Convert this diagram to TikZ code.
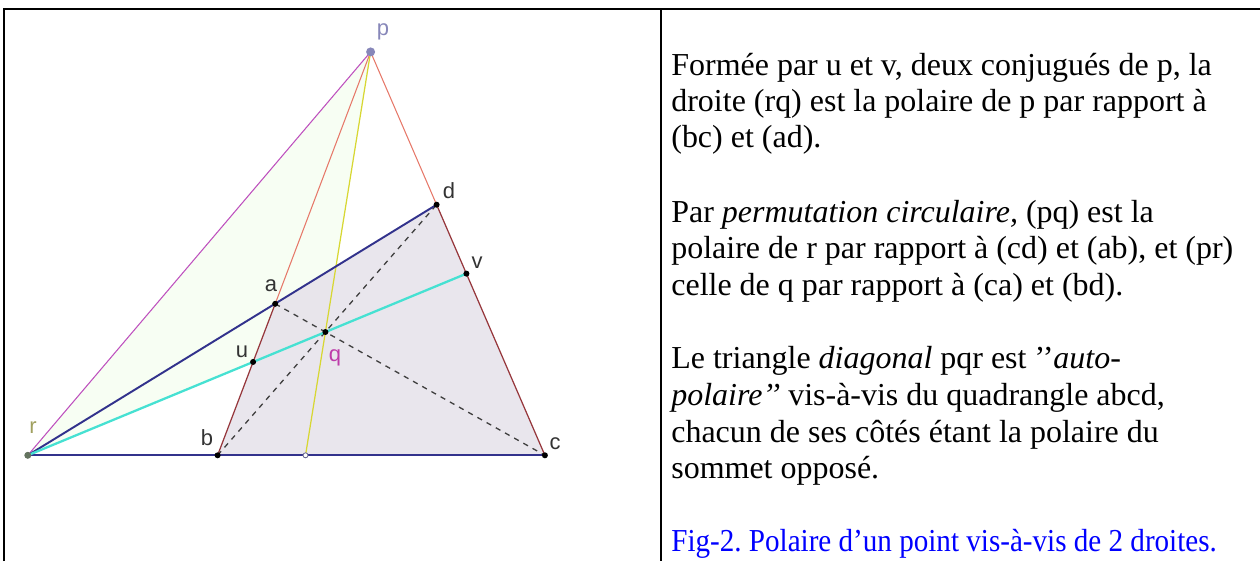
\documentclass[tikz,border=0pt]{standalone}
\usepackage{fontspec}
\setmainfont{Liberation Serif}
\newfontfamily\ggbfont{Liberation Sans}
\usetikzlibrary{calc}
\frenchspacing
\definecolor{rpline}{RGB}{190,80,190}
\definecolor{pbline}{RGB}{230,120,105}
\definecolor{abline}{RGB}{150,55,60}
\definecolor{navyline}{RGB}{50,50,140}
\definecolor{cyanline}{RGB}{70,225,210}
\definecolor{yelline}{RGB}{215,215,50}
\definecolor{quadgray}{RGB}{231,227,235}
\definecolor{trigreen}{RGB}{247,254,243}
\definecolor{pdot}{RGB}{135,135,185}
\definecolor{rdot}{RGB}{100,115,95}
\definecolor{qlab}{RGB}{190,60,170}
\definecolor{rlab}{RGB}{160,160,95}
\tikzset{
  txt/.style={anchor=base west,inner sep=0pt,font=\fontsize{18.2}{21}\selectfont},
  ptlabel/.style={inner sep=0pt,font=\ggbfont\fontsize{12.5}{14}\selectfont,text=black!80},
  frameline/.style={line width=1.15pt}
}

\begin{document}
\begin{tikzpicture}[x=0.02cm,y=-0.02cm]
%\draw[help lines,step=50] (0,0) grid (1260,561);
\useasboundingbox (0,0) rectangle (1260,561);

% frame of the table
\draw[frameline] (4,561)--(4,9)--(1260,9);
\draw[frameline] (661,9)--(661,561);

% points of the quadrangle
\coordinate (p) at (370.6,51.9);
\coordinate (r) at (27.8,455.3);
\coordinate (b) at (217.6,455.3);
\coordinate (c) at (544.9,455.3);
\coordinate (a) at (275.2,303.8);
\coordinate (d) at (436.6,204.7);
\coordinate (q) at (intersection of a--c and b--d);
\coordinate (u) at (intersection of r--q and a--b);
\coordinate (v) at (intersection of r--q and c--d);
\coordinate (f) at (intersection of p--q and b--c);

% fills
\fill[trigreen] (p)--(q)--(r)--cycle;
\fill[quadgray,fill opacity=0.9] (a)--(b)--(c)--(d)--cycle;

% lines
\draw[color=rpline,line width=0.6pt] (r)--(p);
\draw[color=pbline,line width=0.6pt] (p)--(a);
\draw[color=pbline,line width=0.6pt] (p)--(d);
\draw[color=abline,line width=0.7pt] (a)--(b);
\draw[color=abline,line width=0.7pt] (d)--(c);
\draw[color=black!75,dashed,line width=0.75pt] (a)--(c);
\draw[color=black!75,dashed,line width=0.75pt] (b)--(d);
\draw[color=yelline,line width=0.7pt] (p)--(f);
\draw[color=navyline,line width=1pt] (r)--(c);
\draw[color=navyline,line width=1.1pt] (r)--(d);
\draw[color=cyanline,line width=1.3pt] (r)--(v);

% dots
\foreach \pt in {a,b,c,d,u,v,q}
  \fill[black] (\pt) circle (3);
\fill[pdot] (p) circle (4.5);
\fill[rdot] (r) circle (3.5);
\draw[pdot!80!black,fill=white,line width=0.5pt] (f) circle (2.5);

% labels
\node[ptlabel,text=pdot] (lp) at (383,32) {p};
\node[ptlabel] (ld) at (449,191) {d};
\node[ptlabel] (lv) at (477,263) {v};
\node[ptlabel] (la) at (271,286) {a};
\node[ptlabel] (lu) at (242,352) {u};
\node[ptlabel,text=qlab] (lq) at (335,358) {q};
\node[ptlabel,text=rlab] (lr) at (33,428) {r};
\node[ptlabel] (lb) at (207,438) {b};
\node[ptlabel] (lc) at (555,444) {c};

% text of the right cell
\node[txt] (t1) at (671,75) {Formée par u et v, deux conjugués de p, la};
\node[txt] (t2) at (671,111) {droite (rq) est la polaire de p par rapport à};
\node[txt] (t3) at (671,147) {(bc) et (ad).};
\node[txt] (t4) at (671,222) {Par \textit{permutation circulaire,} (pq) est la};
\node[txt] (t5) at (671,258) {polaire de r par rapport à (cd) et (ab), et (pr)};
\node[txt] (t6) at (671,295) {celle de q par rapport à (ca) et (bd).};
\node[txt] (t7) at (671,368) {Le triangle \textit{diagonal} pqr est ’’\textit{auto-}};
\node[txt] (t8) at (671,405) {\textit{polaire’’} vis-à-vis du quadrangle abcd,};
\node[txt] (t9) at (671,442) {chacun de ses côtés étant la polaire du};
\node[txt] (t10) at (671,478) {sommet opposé.};
\node[txt,text=blue] (t11) at (671,551) {\scalebox{0.91}[1]{Fig-2. Polaire d’un point vis-à-vis de 2 droites.}};
\end{tikzpicture}
\end{document}
